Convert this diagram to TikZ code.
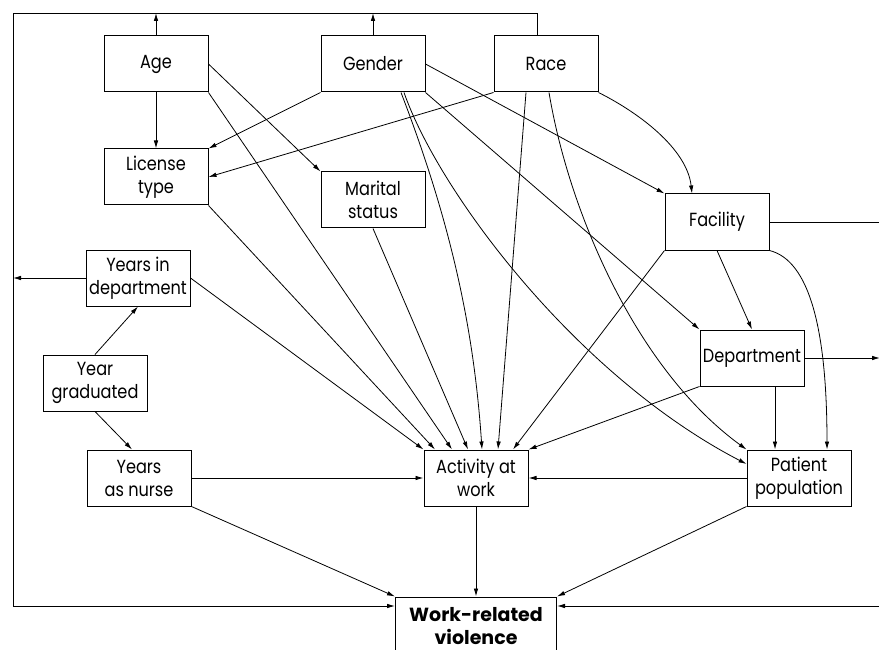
\documentclass[tikz,border=0pt]{standalone}
\usepackage{fontspec}
\setmainfont{Poppins}[FakeStretch=0.85]
\newfontfamily\widefont{Poppins}
\usetikzlibrary{arrows.meta,calc}

\tikzset{
  var/.style={draw,line width=1pt,minimum width=104pt,minimum height=56pt,
    inner sep=2pt,align=center,font=\fontsize{19}{23}\selectfont},
}

\begin{document}
\begin{tikzpicture}[x=1pt,y=-1pt,->,>={Latex[length=8pt,width=4.5pt]},line width=0.8pt]
		\useasboundingbox (0,0) rectangle (879,650);
		\node[var]         (Age)    at (156,64)   {Age};
		\node[var]         (Gen)    at (373,64)   {Gender};
		\node[var]         (Race)   at (546,64)   {Race};
		\node[var]         (Lic)    at (156,177)  {License\\type};
		\node[var]         (Mar)    at (373,200)  {Marital\\status};
		\node[var]         (Fac)    at (717,222)  {Facility};
		\node[var]         (Ydep)   at (138,278)  {Years in\\department};
		\node[var]         (Dep)    at (752,358)  {Department};
		\node[var]         (Grad)   at (95,383)   {Year\\graduated};
		\node[var]         (Nurse)  at (139,478)  {Years\\as nurse};
		\node[var]         (Act)    at (476,478)  {Activity at\\work};
		\node[var]         (Pat)    at (799,478)  {Patient\\population};
		\node[var,minimum width=161pt,minimum height=58pt,font=\widefont\bfseries\fontsize{19}{23}\selectfont]
		                   (Viol)   at (476,626)  {Work-related\\violence};
		\coordinate (tl) at (13,13);
		\coordinate (rb) at (880,606);
		\path (Age.south)        edge (Lic.north)
		      (Age.east)         edge (Mar.north west)
		      (Age.south east)   edge ([xshift=-24pt]Act.north)
		      (Gen.south west)   edge (Lic.north east)
		      (Gen.east)         edge (Fac.north west)
		      (Gen.south east)   edge (Dep.north west)
		      (Race.south west)  edge (Lic.east)
		      ([xshift=-20pt]Race.south) edge ([xshift=22pt]Act.north)
		      (Lic.south east)   edge ([xshift=-41pt]Act.north)
		      (Mar.south)        edge ([xshift=-8pt]Act.north)
		      (Ydep.east)        edge (Act.north west)
		      (Grad.north)       edge (Ydep.south)
		      (Grad.south)       edge ([xshift=-7pt]Nurse.north)
		      (Fac.south west)   edge ([xshift=37pt]Act.north)
		      (Fac.south)        edge (Dep.north)
		      (Dep.south west)   edge (Act.north east)
		      ([xshift=23pt]Dep.south) edge ([xshift=-24pt]Pat.north)
		      (Nurse.east)       edge (Act.west)
		      (Pat.west)         edge (Act.east)
		      (Nurse.south east) edge (Viol.north west)
		      (Act.south)        edge (Viol.north)
		      (Pat.south west)   edge (Viol.north east);
		% curved paths
		\draw ([xshift=28pt]Gen.south) .. controls +(50,130) and +(-8,-120) .. ([xshift=6pt]Act.north);
		\draw ([xshift=31pt]Gen.south) .. controls +(35,100) and +(-170,-88) .. ([yshift=14pt]Pat.west);
		\draw ([xshift=3pt]Race.south) .. controls +(20,120) and +(-110,-80) .. (Pat.north west);
		\draw (Race.south east) .. controls +(40,20) and +(-5,-45) .. ([xshift=-25pt]Fac.north);
		\draw (Fac.south east) .. controls +(40,10) and +(0,-120) .. ([xshift=28pt]Pat.north);
		% feedback loops
		\draw ([xshift=-9pt]Race.north) |- (tl) |- ([yshift=20pt]Viol.west);
		\draw (Age.north) -- (Age.north |- tl);
		\draw (Gen.north) -- (Gen.north |- tl);
		\draw (Ydep.west) -- (Ydep.west -| tl);
		\draw (Fac.east) -| (rb) -- ([yshift=20pt]Viol.east);
		\draw (Dep.east) -- (Dep.east -| rb);
\end{tikzpicture}
\end{document}
